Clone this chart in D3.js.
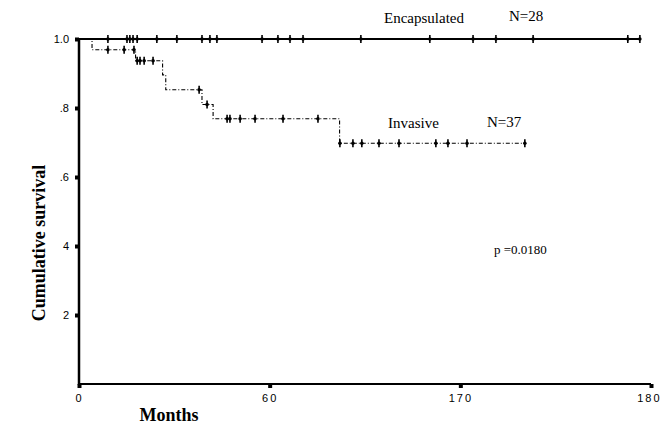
<!DOCTYPE html>
<html>
<head>
<meta charset="utf-8">
<script src="https://cdn.jsdelivr.net/npm/d3@7"></script>
<style>
  body { margin: 0; background: #fff; }
  svg { display: block; }
  .serif { font-family: "Liberation Serif", "DejaVu Serif", serif; fill: #000; }
  .tick text { font-family: "Liberation Sans", Arial, sans-serif; font-size: 11px; fill: #000; }
</style>
</head>
<body>
<div id="chart"></div>
<script>
// Kaplan-Meier, valeurs
const encapsCensor = [9.1, 15.1, 16.0, 17.0, 18.3, 24.5, 30.8, 38.7, 41.2, 43.4, 57.6, 62.6, 66.4, 70.5, 88.7, 110.4, 124.0, 131.2, 142.9, 172.7, 176.5];
const encapsEnd = 176.5;

const invStepTimes = [0, 4.1, 17.8, 26.3, 27.3, 38.7, 42.2, 82.0];
const invStepSurv = [1.0, 0.969, 0.937, 0.896, 0.853, 0.81, 0.769, 0.698];
const invCensor = [9.1, 14.2, 17.3, 18.3, 19.2, 20.5, 23.3, 37.8, 40.3, 46.6, 47.5, 50.7, 55.4, 64.2, 75.2, 82.1, 86.2, 89.0, 94.4, 100.7, 112.3, 116.1, 122.1, 140.3];
const invEnd = 140.3;

const xTicks = [0, 60, 120, 180];
const xTickLabels = ["0", "60", "170", "180"]; // tel qu'imprimé sur le scan
const yTicks = [0.2, 0.4, 0.6, 0.8, 1.0];
const yTickLabels = ["2", "4", ".6", ".8", "1.0"];

const width = 662, height = 428;

const svg = d3.select("#chart").append("svg")
    .attr("width", width)
    .attr("height", height);

const x = d3.scaleLinear().domain([0, 180]).range([79, 651]);
const y = d3.scaleLinear().domain([0, 1]).range([384, 39]);

// axes
const yAxis = d3.axisLeft(y)
    .tickValues(yTicks)
    .tickFormat((d, i) => yTickLabels[i])
    .tickSizeInner(4).tickSizeOuter(0).tickPadding(6);
const gy = svg.append("g").attr("transform", `translate(${x(0)},0)`).call(yAxis);
gy.select(".domain").remove();
gy.selectAll(".tick line").attr("stroke-width", 4);

const xAxis = d3.axisBottom(x)
    .tickValues(xTicks)
    .tickFormat((d, i) => xTickLabels[i])
    .tickSizeInner(4).tickSizeOuter(0).tickPadding(6);
const gx = svg.append("g").attr("transform", `translate(0,${y(0)})`).call(xAxis);
gx.select(".domain").remove();
gx.selectAll(".tick line").attr("stroke-width", 4);
gx.selectAll(".tick text").attr("letter-spacing", "2px");
// le dernier libellé touche le bord droit
gx.selectAll(".tick text").filter(d => d === 180).attr("text-anchor", "end").attr("x", 10);

svg.append("line")
    .attr("x1", x(0)).attr("x2", x(0))
    .attr("y1", y(1)).attr("y2", y(0) + 1)
    .attr("stroke", "#000").attr("stroke-width", 2.5);
svg.append("line")
    .attr("x1", x(0)).attr("x2", x(180))
    .attr("y1", y(0)).attr("y2", y(0))
    .attr("stroke", "#000").attr("stroke-width", 2);

// courbes
function survAt(t) {
    let s = invStepSurv[0];
    for (let i = 0; i < invStepTimes.length; i++) {
        if (invStepTimes[i] <= t) s = invStepSurv[i];
    }
    return s;
}

const stepLine = d3.line().x(d => x(d[0])).y(d => y(d[1])).curve(d3.curveStepAfter);

const encapsPts = [[0, 1], [encapsEnd, 1]];
svg.append("path")
    .datum(encapsPts)
    .attr("d", stepLine)
    .attr("fill", "none")
    .attr("stroke", "#000")
    .attr("stroke-width", 2);

const invPts = invStepTimes.map((t, i) => [t, invStepSurv[i]]);
invPts.push([invEnd, invStepSurv[invStepSurv.length - 1]]);
svg.append("path")
    .datum(invPts)
    .attr("d", stepLine)
    .attr("fill", "none")
    .attr("stroke", "#000")
    .attr("stroke-width", 1.1)
    .attr("stroke-dasharray", "4,2,1,2");

function drawCensors(times, survFn) {
    const g = svg.append("g");
    g.selectAll("line")
        .data(times)
        .join("line")
        .attr("x1", d => x(d)).attr("x2", d => x(d))
        .attr("y1", d => y(survFn(d)) - 4)
        .attr("y2", d => y(survFn(d)) + 4)
        .attr("stroke", "#000")
        .attr("stroke-width", 1.6);
    g.selectAll("circle")
        .data(times)
        .join("circle")
        .attr("cx", d => x(d))
        .attr("cy", d => y(survFn(d)))
        .attr("r", 1.8)
        .attr("fill", "#000");
}
drawCensors(encapsCensor, () => 1);
drawCensors(invCensor, survAt);

// textes
svg.append("text").attr("class", "serif")
    .attr("x", 384).attr("y", 23)
    .attr("font-size", 15)
    .text("Encapsulated");
svg.append("text").attr("class", "serif")
    .attr("x", 509).attr("y", 21)
    .attr("font-size", 15)
    .text("N=28");
svg.append("text").attr("class", "serif")
    .attr("x", 388).attr("y", 128)
    .attr("font-size", 15)
    .text("Invasive");
svg.append("text").attr("class", "serif")
    .attr("x", 487).attr("y", 127)
    .attr("font-size", 15)
    .text("N=37");
svg.append("text").attr("class", "serif")
    .attr("x", 494).attr("y", 254)
    .attr("font-size", 13)
    .text("p =0.0180");

svg.append("text").attr("class", "serif")
    .attr("transform", "translate(45,243) rotate(-90)")
    .attr("text-anchor", "middle")
    .attr("font-size", 18)
    .attr("font-weight", "bold")
    .text("Cumulative survival");
svg.append("text").attr("class", "serif")
    .attr("x", 169).attr("y", 421)
    .attr("text-anchor", "middle")
    .attr("font-size", 18)
    .attr("font-weight", "bold")
    .text("Months");
</script>
</body>
</html>
